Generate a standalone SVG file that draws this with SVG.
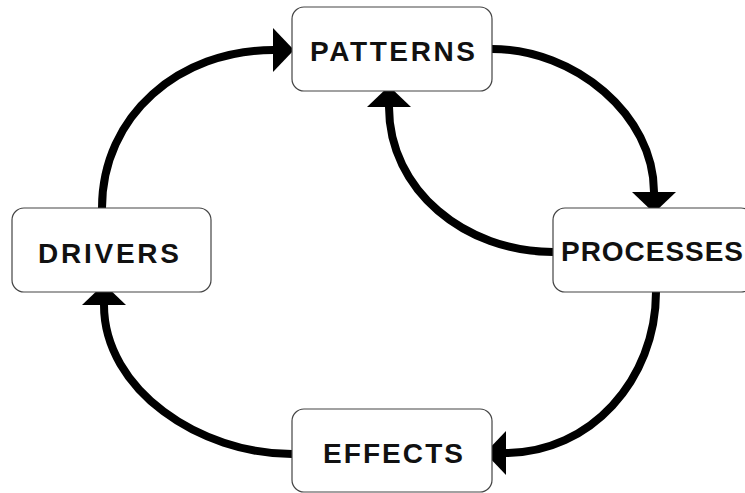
<svg xmlns="http://www.w3.org/2000/svg" width="745" height="493" viewBox="0 0 745 493">
<style>
.box{fill:#fff;stroke:#444;stroke-width:1.2}
.lbl{font-family:"Liberation Sans",Arial,sans-serif;font-weight:bold;font-size:28px;fill:#111}
.arr{fill:none;stroke:#000;stroke-width:8;marker-end:url(#ah)}
</style>
<defs>
<marker id="ah" markerUnits="userSpaceOnUse" viewBox="0 0 21 44" markerWidth="21" markerHeight="44" refX="0" refY="22" orient="auto">
<path d="M0,0 L21,22 L0,44 Z" fill="#000"/>
</marker>
</defs>
<rect width="745" height="493" fill="#fff"/>
<g id="connectors">
<path class="arr" d="M102,208 C102,115 180,50 273,50"/>
<path class="arr" d="M492,49 C575,49 654,115 654,192"/>
<path class="arr" d="M553,252 C465,252 389,190 389,107"/>
<path class="arr" d="M656,292 C656,380 590,453 506,453"/>
<path class="arr" d="M292,454 C200,454 104,390 104,305"/>
</g>
<g id="node-patterns">
<rect class="box" x="292" y="7" width="200" height="84" rx="12"/>
<text class="lbl" x="310" y="60.5" textLength="165" lengthAdjust="spacing">PATTERNS</text>
</g>
<g id="node-processes">
<rect class="box" x="553" y="208" width="200" height="84" rx="12"/>
<text class="lbl" x="561" y="261" textLength="182" lengthAdjust="spacing">PROCESSES</text>
</g>
<g id="node-drivers">
<rect class="box" x="12" y="208" width="199" height="84" rx="12"/>
<text class="lbl" x="38" y="263" textLength="141" lengthAdjust="spacing">DRIVERS</text>
</g>
<g id="node-effects">
<rect class="box" x="292" y="409" width="200" height="83" rx="12"/>
<text class="lbl" x="323" y="463" textLength="140" lengthAdjust="spacing">EFFECTS</text>
</g>
</svg>
